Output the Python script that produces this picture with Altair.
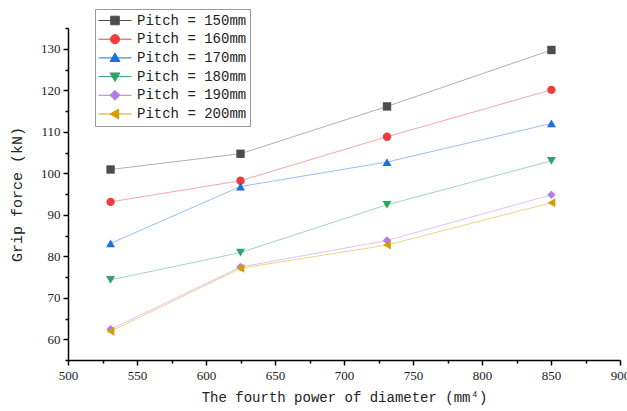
import altair as alt
import pandas as pd

diam4 = [530.84, 625.0, 731.16, 850.31]
series = ["Pitch = 150mm", "Pitch = 160mm", "Pitch = 170mm",
          "Pitch = 180mm", "Pitch = 190mm", "Pitch = 200mm"]
values = [
    [100.9, 104.7, 116.1, 129.7],
    [93.1, 98.2, 108.8, 120.1],
    [83.1, 96.8, 102.7, 112.0],
    [74.3, 80.9, 92.4, 103.0],
    [62.4, 77.4, 83.8, 94.8],
    [61.9, 77.1, 82.7, 92.9],
]
colors = ["#4d4d4d", "#f03c3c", "#1f6fe0", "#2ea36a", "#b57be8", "#d4a000"]
shapes = ["square", "circle", "triangle-up", "triangle-down", "diamond", "triangle-left"]
legend_paths = [
    "M-1,0H1M-0.26,-0.26H0.26V0.26H-0.26Z",
    "M-1,0H1M0.28,0L0.24,0.14L0.14,0.24L0,0.28L-0.14,0.24L-0.24,0.14L-0.28,0L-0.24,-0.14L-0.14,-0.24L0,-0.28L0.14,-0.24L0.24,-0.14Z",
    "M-1,0H1M0,-0.3L0.3,0.22L-0.3,0.22Z",
    "M-1,0H1M0,0.3L0.3,-0.22L-0.3,-0.22Z",
    "M-1,0H1M0,-0.3L0.3,0L0,0.3L-0.3,0Z",
    "M-1,0H1M-0.3,0L0.22,-0.3L0.22,0.3Z",
]
x_major = [500, 550, 600, 650, 700, 750, 800, 850, 900]
x_minor = [525, 575, 625, 675, 725, 775, 825, 875]
y_major = [60, 70, 80, 90, 100, 110, 120, 130]
y_minor = [55, 65, 75, 85, 95, 105, 115, 125, 135]

rows = []
for s, vals in zip(series, values):
    for xv, yv in zip(diam4, vals):
        rows.append({"x": xv, "y": yv, "series": s})
df = pd.DataFrame(rows)

label_font = "Liberation Serif"
text_font = "Liberation Mono"

xs = alt.Scale(domain=[500, 900], nice=False, zero=False)
ys = alt.Scale(domain=[55, 135], nice=False, zero=False)

x_axis = alt.Axis(values=x_major, title="The fourth power of diameter (mm⁴)", grid=False,
                  orient="bottom", domainColor="black", domainWidth=1.5, tickColor="black",
                  tickWidth=1.5, tickSize=5, labelFont=label_font, labelFontSize=13,
                  labelColor="#222", labelFlush=False, labelOverlap=False,
                  titleFont=text_font, titleFontSize=14,
                  titleFontWeight="normal", titleColor="#222", titlePadding=8, labelPadding=4)
y_axis = alt.Axis(values=y_major, title="Grip force (kN)", grid=False, orient="left",
                  domainColor="black", domainWidth=1.5, tickColor="black", tickWidth=1.5,
                  tickSize=5, labelFont=label_font, labelFontSize=13, labelColor="#222",
                  labelFlush=False, labelOverlap=False,
                  titleFont=text_font, titleFontSize=15, titleFontWeight="normal",
                  titleColor="#222", titlePadding=16, labelPadding=3)
x_axis_minor = alt.Axis(values=x_minor, title=None, labels=False, grid=False, orient="bottom",
                        domain=False, tickColor="black", tickWidth=1.5, tickSize=3)
y_axis_minor = alt.Axis(values=y_minor, title=None, labels=False, grid=False, orient="left",
                        domain=False, tickColor="black", tickWidth=1.5, tickSize=3)

axes_layer = alt.Chart(df).mark_point(opacity=0, size=1).encode(
    x=alt.X("x:Q", scale=xs, axis=x_axis),
    y=alt.Y("y:Q", scale=ys, axis=y_axis),
)
minor = alt.Chart(df).mark_point(opacity=0, size=1).encode(
    x=alt.X("x:Q", scale=xs, axis=x_axis_minor),
    y=alt.Y("y:Q", scale=ys, axis=y_axis_minor),
)

line_layers = []
point_layers = []
for s, c, sh in zip(series, colors, shapes):
    base = alt.Chart(df).transform_filter(alt.datum.series == s)
    line_layers.append(
        base.mark_line(strokeWidth=1, opacity=0.45, color=c).encode(
            x=alt.X("x:Q", scale=xs, axis=None),
            y=alt.Y("y:Q", scale=ys, axis=None),
        )
    )
    point_layers.append(
        base.mark_point(
            filled=True, size=70 if sh in ("square", "circle", "diamond") else 80,
            opacity=1, shape=sh, color=c
        ).encode(
            x=alt.X("x:Q", scale=xs, axis=None),
            y=alt.Y("y:Q", scale=ys, axis=None),
        )
    )

# Legend-only layer: its marks are placed outside the clipped plot area.
legend_layer = alt.Chart(df).mark_point(filled=True, size=1, clip=True, strokeWidth=1,
                                        opacity=1).encode(
    x=alt.value(-300),
    y=alt.value(-300),
    shape=alt.Shape("series:N", scale=alt.Scale(domain=series, range=legend_paths),
                    legend=alt.Legend(title=None, orient="none", legendX=27, legendY=-19,
                                      symbolSize=1089, symbolStrokeWidth=1, symbolOpacity=1,
                                      labelFont=text_font, labelFontSize=14, labelColor="#222",
                                      strokeColor="#999", padding=3, rowPadding=1.7,
                                      clipHeight=17, labelOffset=5)),
    fill=alt.Fill("series:N", scale=alt.Scale(domain=series, range=colors)),
    stroke=alt.Stroke("series:N", scale=alt.Scale(domain=series, range=colors)),
)

chart = alt.layer(axes_layer, minor, *line_layers, *point_layers, legend_layer).resolve_axis(
    x="independent", y="independent"
).properties(
    width=552, height=332,
    padding={"left": 68, "top": 28, "right": 7, "bottom": 51},
    autosize=alt.AutoSizeParams(type="none"),
    background="white",
).configure_view(stroke=None)

chart.save("out.html", embed_options={"renderer": "svg", "actions": False})
